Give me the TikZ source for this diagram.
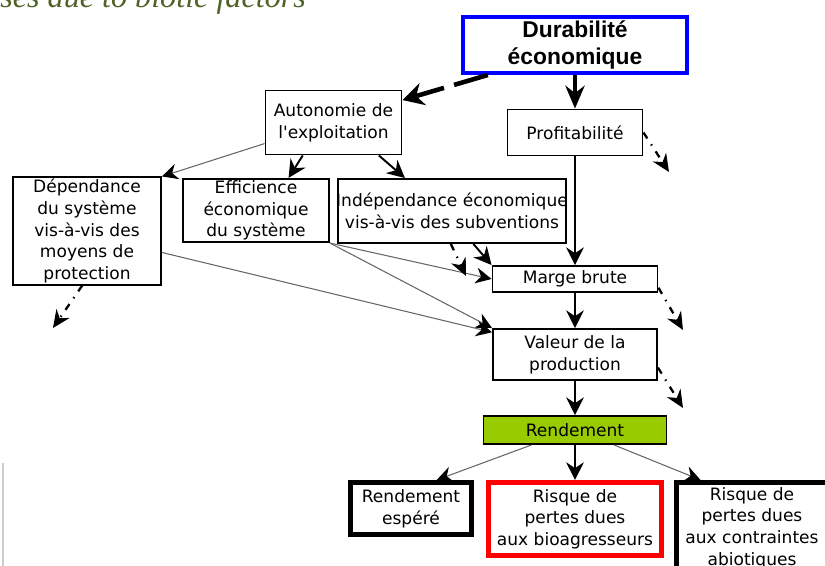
\documentclass[tikz,border=0pt]{standalone}
\usepackage{fontspec}
\setmainfont{DejaVu Sans}
\newfontfamily\titlefont{Liberation Sans}
\newfontfamily\capfont{Liberation Serif}
\usetikzlibrary{arrows.meta}
\definecolor{olivecap}{RGB}{79,98,40}
\definecolor{rendgreen}{RGB}{153,204,0}

\begin{document}
\begin{tikzpicture}[
  box/.style={draw, line width=1.1pt, align=center, inner sep=1pt, fill=white, font=\fontsize{9.7}{12.3}\selectfont},
  heavybox/.style={box, line width=2.6pt},
  mainarrow/.style={line width=1.1pt, -{Stealth[length=10pt,width=10pt]}},
  bigarrow/.style={line width=1.8pt, -{Stealth[length=13pt,width=11pt]}},
  heavydash/.style={line width=2.6pt, dash pattern=on 20pt off 6pt, -{Stealth[length=12pt,width=13pt]}},
  thinarrow/.style={line width=0.6pt, draw=black!60, -{Stealth[length=9pt,width=9pt,color=black]}},
  outarrow/.style={line width=1.3pt, dash pattern=on 4pt off 4pt on 0.8pt off 4pt, -{Stealth[length=10pt,width=9pt]}}
]
\useasboundingbox (0,0) rectangle (16.5,11.32);
\clip (0,0) rectangle (16.5,11.32);

% caption cut at the top
\node[anchor=base west, inner sep=0pt, text=olivecap, font=\capfont\itshape\fontsize{18.3}{20}\selectfont] (caption) at (0,11.16) {ses due to biotic factors};
\draw[black!20, line width=1.2pt] (0.06,2.06) -- (0.06,0);

\node[box, draw=blue, line width=2.3pt, minimum width=4.48cm, minimum height=1.12cm, font=\titlefont\bfseries\fontsize{13}{15.4}\selectfont] (dura) at (11.5,10.42) {Durabilité\\économique};
\node[box, minimum width=2.72cm, minimum height=1.28cm] (auto) at (6.67,8.87) {Autonomie de\\l\textquotesingle exploitation};
\node[box, minimum width=2.7cm, minimum height=0.92cm] (profit) at (11.5,8.67) {Profitabilité};
\node[box, minimum width=2.96cm, minimum height=2.12cm] (dep) at (1.74,6.70) {Dépendance\\du système\\vis-à-vis des\\moyens de\\protection};
\node[box, minimum width=2.92cm, minimum height=1.26cm] (eff) at (5.12,7.11) {Efficience\\économique\\du système};
\node[box, inner xsep=-1pt, minimum width=4.56cm, minimum height=1.28cm] (indep) at (9.04,7.10) {Indépendance économique\\vis-à-vis des subventions};
\node[box, minimum width=3.3cm, minimum height=0.52cm] (marge) at (11.5,5.74) {Marge brute};
\node[box, minimum width=3.28cm, minimum height=1.02cm] (val) at (11.5,4.23) {Valeur de la\\production};
\node[box, fill=rendgreen, minimum width=3.66cm, minimum height=0.56cm] (rend) at (11.5,2.72) {Rendement};
\node[heavybox, minimum width=2.43cm, minimum height=1.05cm] (esp) at (8.22,1.15) {Rendement\\espéré};
\node[heavybox, draw=red, minimum width=3.45cm, minimum height=1.47cm] (bio) at (11.5,0.94) {Risque de\\pertes dues\\aux bioagresseurs};
\node[heavybox, minimum width=3.03cm, minimum height=1.83cm] (abio) at (15.04,0.76) {Risque de\\pertes dues\\aux contraintes\\abiotiques};

\draw[bigarrow] (dura) -- (profit);
\draw[heavydash] (dura.-161) -- (auto.18);
\draw[thinarrow] (auto.-163) -- (dep.north east);
\draw[mainarrow] (auto.-133) -- (eff.45);
\draw[mainarrow] (auto.-36) -- (indep.145);
\draw[mainarrow] (profit) -- (marge);
\draw[mainarrow] (indep.-57) -- (marge.north west);
\draw[thinarrow] (eff.south east) -- (marge.west);
\draw[thinarrow] (eff.south east) -- (val.north west);
\draw[thinarrow] (dep.-16) -- (val.165);
\draw[mainarrow] (marge) -- (val);
\draw[mainarrow] (val) -- (rend);
\draw[thinarrow] (rend.-161) -- (esp.48);
\draw[mainarrow] (rend) -- (bio);
\draw[thinarrow] (rend.-21) -- (abio.137);

% arrows leaving the picture
\coordinate (o1) at (13.38,7.88);
\coordinate (o2) at (13.66,4.72);
\coordinate (o3) at (13.66,3.16);
\coordinate (o4) at (1.06,4.76);
\coordinate (o5) at (9.32,5.80);
\draw[outarrow] (profit.east) -- (o1);
\draw[outarrow] (marge.-6) -- (o2);
\draw[outarrow] (val.-9) -- (o3);
\draw[outarrow] (dep.-95) -- (o4);
\draw[outarrow] (indep.-92) -- (o5);
\end{tikzpicture}
\end{document}
